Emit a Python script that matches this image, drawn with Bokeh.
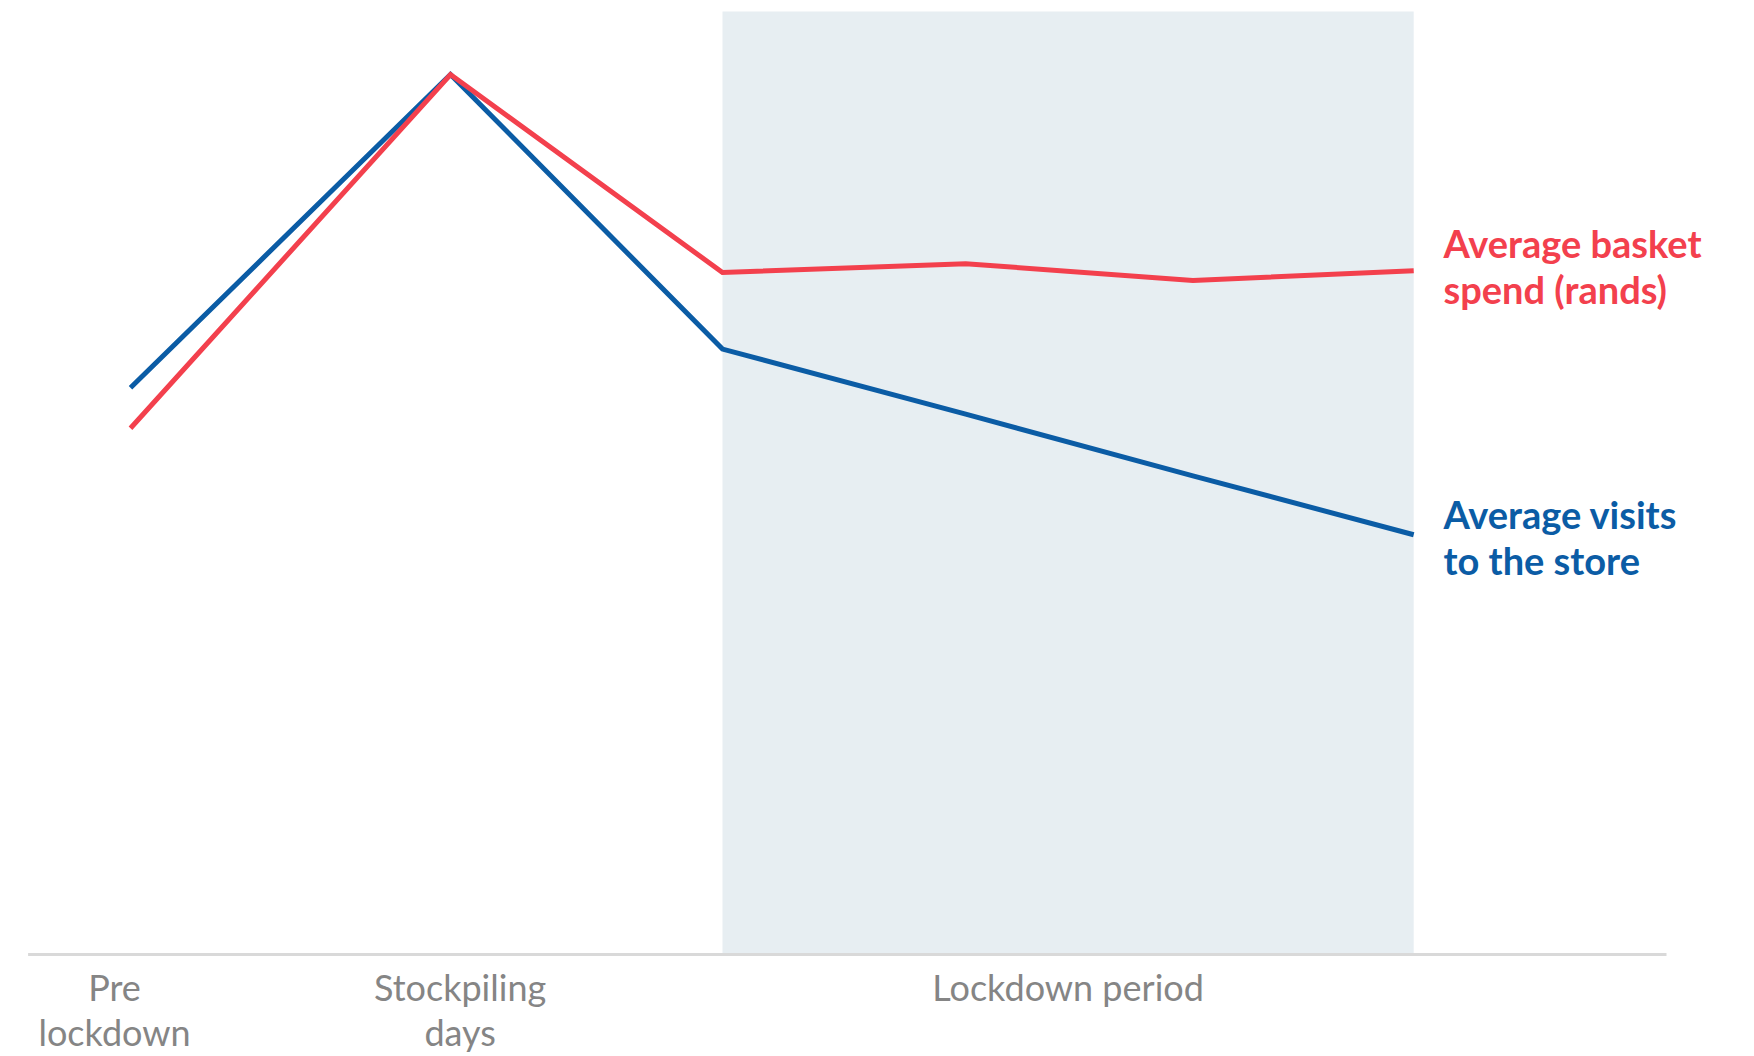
from bokeh.plotting import figure
from bokeh.models import Range1d
from bokeh.core.properties import value
from bokeh.embed import file_html
from bokeh.resources import INLINE

# Period positions along the time axis (0 = pre lockdown, 1 = stockpiling days)
period_x = [0.0, 1.0, 1.85, 2.61, 3.32, 4.01]

# Indexed values (peak = 100)
basket_spend = [59.8, 100.0, 77.5, 78.5, 76.6, 77.7]
store_visits = [64.4, 100.0, 68.8, 61.4, 54.4, 47.7]

category_labels = [["Pre", "lockdown"], ["Stockpiling", "days"], ["Lockdown period"]]
series_labels = [["Average basket", "spend (rands)"], ["Average visits", "to the store"]]

RED = "#F3404D"
BLUE = "#0B5CA5"
GREY = "#858585"
FONT = "Lato"

lockdown_start = period_x[2]
lockdown_end = period_x[-1]

p = figure(width=1754, height=1056, output_backend="svg", toolbar_location=None,
           x_range=Range1d(-0.40625, 5.075), y_range=Range1d(-11.59, 108.41),
           min_border=0, outline_line_color=None, background_fill_color="white",
           border_fill_color="white")
p.xaxis.visible = False
p.yaxis.visible = False
p.grid.visible = False

# Shaded lockdown band
p.quad(left=lockdown_start, right=lockdown_end, bottom=0, top=107.15,
       fill_color="#E7EEF2", line_color=None)

# Baseline
p.segment(x0=-0.32, y0=0, x1=4.80, y1=0, line_color="#D9D9D9", line_width=3)

p.line(period_x, store_visits, line_color=BLUE, line_width=5, line_join="miter")
p.line(period_x, basket_spend, line_color=RED, line_width=5, line_join="miter")

# Category labels under the baseline
row1, row2 = -3.7, -8.75
cat_x = [-0.05, 1.03, (lockdown_start + lockdown_end) / 2]
for cx, lines in zip(cat_x, category_labels):
    for i, t in enumerate(lines):
        p.text(x=[cx], y=[row1 if i == 0 else row2], text=[t],
               text_font=value(FONT), text_font_size="36px", text_color=GREY,
               text_align="center", text_baseline="middle")

# Direct series labels at the right end of the lines
label_x = 4.103
for lines, ys, col in [(series_labels[0], [80.9, 75.6], RED),
                       (series_labels[1], [50.1, 44.8], BLUE)]:
    for t, yy in zip(lines, ys):
        p.text(x=[label_x], y=[yy], text=[t], text_font=value(FONT),
               text_font_size="38px", text_font_style="bold", text_color=col,
               text_align="left", text_baseline="middle")

open("out.html", "w").write(file_html(p, INLINE))
